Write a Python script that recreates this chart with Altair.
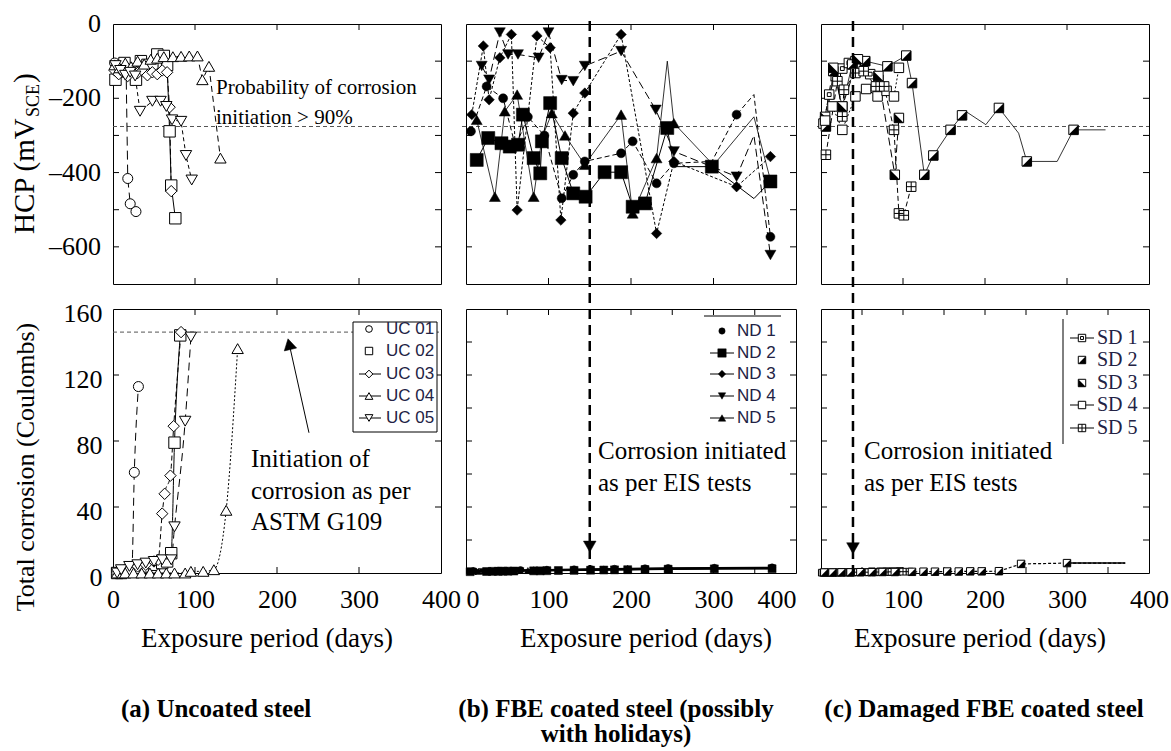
import altair as alt
import pandas as pd

SERIF = "Liberation Serif"
SANS = "Liberation Sans"
INK = "black"
KEY_INK = "#222244"

# ---------------- scales and reference levels ----------------
X_DOMAIN = [0, 400]
HCP_DOMAIN = [-700, 0]
Q_DOMAIN = [0, 160]
HCP_LIMIT = -276          # 90 % probability of corrosion (mV vs SCE)
Q_LIMIT = 146             # ASTM G109 initiation level (C)
EIS_DAY_ND = 150          # corrosion initiation from EIS, intact FBE
EIS_DAY_SD = 39           # corrosion initiation from EIS, damaged FBE

HCP_LABELS = [0, -200, -400, -600]
HCP_TICKS = [-100, -200, -300, -400, -500, -600]
Q_LABELS = [0, 40, 80, 120, 160]
Q_TICKS_A = [40, 80, 120]
Q_TICKS_BC = [20, 40, 60, 80, 100, 120, 140]
DAY_LABELS = [0, 100, 200, 300, 400]
DAY_TICKS = [100, 200, 300]
DAY_TICKS_FINE = [50, 100, 150, 200, 250, 300, 350]

W_A, W_B, W_C = 328, 330, 328
H_TOP, H_BOT = 260, 264
GAP = 25
TICK = 6

UC_NAMES = ["UC 01", "UC 02", "UC 03", "UC 04", "UC 05"]
ND_NAMES = ["ND 1", "ND 2", "ND 3", "ND 4", "ND 5"]
SD_NAMES = ["SD 1", "SD 2", "SD 3", "SD 4", "SD 5"]

# ---------------- (a) uncoated steel ----------------
uc01_hcp_day = [2, 6, 10, 14, 16, 18, 21, 28]
uc01_hcp = [-105, -118, -130, -122, -125, -416, -484, -505]
uc02_hcp_day = [3, 8, 14, 20, 28, 34, 42, 48, 54, 62, 66, 69, 71, 76]
uc02_hcp = [-150, -118, -105, -128, -150, -100, -110, -120, -82, -86, -110, -289, -435, -523]
uc03_hcp_day = [2, 7, 12, 18, 24, 30, 36, 42, 48, 54, 60, 66, 69, 71]
uc03_hcp = [-125, -135, -128, -140, -120, -132, -125, -138, -130, -135, -125, -130, -224, -450]
uc04_hcp_day = [2, 8, 15, 22, 30, 38, 46, 54, 62, 73, 83, 93, 103, 109, 117, 131]
uc04_hcp = [-110, -118, -105, -115, -100, -108, -95, -92, -88, -88, -87, -86, -86, -150, -114, -361]
uc05_hcp_day = [3, 9, 15, 21, 27, 33, 48, 58, 65, 72, 83, 89, 96]
uc05_hcp = [-112, -125, -138, -130, -140, -235, -208, -208, -222, -258, -262, -354, -420]

uc01_q_day = [5, 10, 15, 20, 23, 26, 31]
uc01_q = [0, 1, 2, 3, 3, 61, 113]
uc02_q_day = [5, 10, 15, 20, 30, 40, 50, 60, 66, 71, 75, 82]
uc02_q = [0, 0, 1, 1, 3, 4, 5, 6, 7, 12, 79, 144]
uc03_q_day = [5, 10, 20, 30, 40, 50, 55, 60, 63, 70, 74, 83]
uc03_q = [0, 1, 2, 4, 5, 7, 8, 36, 48, 59, 89, 146]
uc04_q_day = [5, 15, 25, 35, 45, 55, 65, 75, 88, 95, 110, 123, 138, 152]
uc04_q = [0, 0, 0, 0, 0, 0, 0, 0, 0, 1, 1, 2, 38, 136]
uc05_q_day = [5, 10, 20, 30, 40, 50, 60, 71, 75, 88, 95]
uc05_q = [0, 2, 4, 5, 6, 7, 8, 8, 28, 92, 143]

# ---------------- (b) FBE coated steel ----------------
nd1_hcp_day = [6, 25, 45, 60, 75, 95, 116, 130, 144, 188, 202, 231, 252, 298, 328, 349, 369]
nd1_hcp = [-289, -168, -200, -330, -250, -300, -469, -406, -370, -348, -316, -429, -375, -370, -244, -190, -573]
nd1_hcp_bend = [298, 349]
nd2_hcp_day = [13, 27, 43, 53, 63, 69, 82, 90, 92, 102, 116, 130, 145, 168, 188, 202, 217, 244, 252, 298, 349, 369]
nd2_hcp = [-366, -307, -321, -330, -325, -244, -361, -402, -316, -213, -361, -456, -465, -399, -399, -492, -483, -280, -384, -384, -470, -424]
nd2_hcp_bend = [252, 349]
nd3_hcp_day = [7, 21, 28, 41, 55, 62, 86, 102, 115, 130, 144, 188, 231, 252, 328, 369]
nd3_hcp = [-244, -59, -204, -91, -28, -501, -32, -64, -528, -240, -186, -28, -564, -370, -438, -357]
nd3_hcp_bend = []
nd4_hcp_day = [19, 28, 41, 51, 63, 88, 100, 116, 130, 144, 188, 230, 252, 328, 349, 369]
nd4_hcp = [-113, -150, -23, -82, -82, -91, -23, -151, -154, -113, -73, -231, -343, -411, -300, -622]
nd4_hcp_bend = [349]
nd5_hcp_day = [13, 35, 47, 62, 82, 92, 104, 120, 144, 188, 202, 231, 244, 252, 300, 349, 369]
nd5_hcp = [-258, -465, -235, -190, -465, -307, -240, -300, -379, -244, -510, -361, -100, -267, -380, -250, -420]
nd5_hcp_bend = [244, 300, 349]

nd1_q_day = [9, 39, 66, 98, 131, 151, 180, 217, 245, 301, 371]
nd1_q = [1.2, 1.5, 1.8, 2.0, 2.2, 2.4, 2.6, 2.9, 3.0, 3.2, 3.4]
nd2_q_day = [5, 25, 32, 39, 45, 51, 58, 82, 90, 98, 112, 131, 151, 167, 180, 196, 217, 245, 301, 371]
nd2_q = [0.8, 0.9, 1.0, 1.0, 1.1, 1.1, 1.2, 1.3, 1.3, 1.4, 1.5, 1.6, 1.7, 1.8, 1.9, 2.0, 2.1, 2.3, 2.5, 2.6]
nd3_q_day = [12, 30, 45, 58, 82, 98, 131, 167, 196, 245, 301, 371]
nd3_q = [1.0, 1.2, 1.4, 1.5, 1.7, 1.8, 2.0, 2.2, 2.5, 2.8, 3.0, 3.1]
nd4_q_day = [20, 42, 66, 90, 112, 151, 180, 217, 245, 301, 371]
nd4_q = [0.9, 1.1, 1.3, 1.5, 1.6, 1.8, 2.0, 2.2, 2.4, 2.6, 2.7]
nd5_q_day = [15, 35, 51, 75, 98, 131, 167, 196, 245, 301, 371]
nd5_q = [1.0, 1.1, 1.3, 1.5, 1.7, 1.9, 2.1, 2.3, 2.6, 2.8, 3.0]

# ---------------- (c) damaged FBE coated steel ----------------
sd1_hcp_day = [3, 10, 18, 26, 34, 42, 50, 60, 70]
sd1_hcp = [-268, -190, -140, -120, -105, -100, -110, -135, -150]
sd2_hcp_day = [6, 15, 26, 38, 54, 81, 104, 111, 126, 137, 158, 172, 177, 201, 217, 241, 251, 288, 308, 347]
sd2_hcp = [-276, -127, -222, -109, -100, -114, -85, -159, -406, -354, -285, -246, -236, -271, -226, -294, -370, -370, -285, -285]
sd2_hcp_bend = [177, 201, 241, 288, 347]
sd3_hcp_day = [5, 15, 26, 45, 70, 90, 95]
sd3_hcp = [-250, -118, -222, -95, -140, -406, -253]
sd4_hcp_day = [5, 14, 26, 42, 55, 69, 80, 89, 95]
sd4_hcp = [-260, -222, -285, -195, -175, -195, -180, -195, -118]
sd5_hcp_day = [6, 20, 26, 28, 42, 52, 67, 77, 89, 95, 101, 110]
sd5_hcp = [-352, -154, -249, -177, -132, -127, -168, -168, -285, -510, -515, -438]

sd1_q_day = [1, 6, 11, 16, 21, 26, 31, 36, 41, 46, 55]
sd1_q = [0.2, 0.2, 0.3, 0.3, 0.3, 0.4, 0.4, 0.4, 0.5, 0.5, 0.5]
sd2_q_day = [4, 14, 25, 36, 48, 62, 75, 90, 111, 125, 139, 154, 168, 182, 196, 217, 244, 300, 371]
sd2_q = [0.3, 0.3, 0.4, 0.4, 0.5, 0.5, 0.6, 0.6, 0.7, 0.8, 0.8, 0.9, 0.9, 1.0, 1.0, 1.1, 5.5, 6.0, 6.0]
sd2_q_bend = [371]
sd3_q_day = [3, 12, 21, 30, 39, 48, 57, 66, 75, 84]
sd3_q = [0.2, 0.2, 0.3, 0.3, 0.3, 0.4, 0.4, 0.4, 0.5, 0.5]
sd4_q_day = [8, 18, 28, 38, 48, 62, 72, 80, 88, 96]
sd4_q = [0.3, 0.3, 0.4, 0.4, 0.5, 1.0, 1.0, 1.1, 1.1, 1.2]
sd5_q_day = [5, 15, 25, 35, 45, 58, 68, 78, 86, 93, 100, 108]
sd5_q = [0.3, 0.3, 0.4, 0.4, 0.5, 0.5, 0.6, 0.6, 0.7, 0.7, 0.8, 0.8]

# ---------------- marker glyphs ----------------
OPEN = dict(filled=True, fill="white", stroke=INK, strokeWidth=1)
SOLID = dict(filled=True, fill=INK, stroke=INK, strokeWidth=0.5)
HALF_LR = "M1,-1L1,1L-1,1Z"
HALF_LL = "M-1,-1L1,1L-1,1Z"
PLUS = "M-1,0L1,0M0,-1L0,1"
INNER = "M-0.4,-0.4L0.4,-0.4L0.4,0.4L-0.4,0.4Z"

GLYPHS = {
    "UC 01": [dict(shape="circle", **OPEN)],
    "UC 02": [dict(shape="square", **OPEN)],
    "UC 03": [dict(shape="diamond", **OPEN)],
    "UC 04": [dict(shape="triangle-up", **OPEN)],
    "UC 05": [dict(shape="triangle-down", **OPEN)],
    "ND 1": [dict(shape="circle", **SOLID)],
    "ND 2": [dict(shape="square", **SOLID)],
    "ND 3": [dict(shape="diamond", **SOLID)],
    "ND 4": [dict(shape="triangle-down", **SOLID)],
    "ND 5": [dict(shape="triangle-up", **SOLID)],
    "SD 1": [dict(shape="square", **OPEN), dict(shape=INNER, filled=False, stroke=INK, strokeWidth=1)],
    "SD 2": [dict(shape="square", **OPEN), dict(shape=HALF_LR, filled=True, fill=INK, strokeWidth=0)],
    "SD 3": [dict(shape="square", **OPEN), dict(shape=HALF_LL, filled=True, fill=INK, strokeWidth=0)],
    "SD 4": [dict(shape="square", **OPEN)],
    "SD 5": [dict(shape="square", **OPEN), dict(shape=PLUS, filled=False, stroke=INK, strokeWidth=1)],
}

ONE = pd.DataFrame({"k": [0]})
XS = alt.Scale(domain=X_DOMAIN, nice=False, zero=False)
YS_HCP = alt.Scale(domain=HCP_DOMAIN, nice=False, zero=False)
YS_Q = alt.Scale(domain=Q_DOMAIN, nice=False, zero=False)

# Axes of the panel under construction; every layer of a panel carries the
# same axis definitions so that the layered axes merge cleanly.
AX = {"x": None, "y": None}


def X(field):
    return alt.X(field, scale=XS, axis=AX["x"])


def Y(field, ys):
    return alt.Y(field, scale=ys, axis=AX["y"])


def line(days, vals, ys, dash=None, width=1.0, interp="linear"):
    kw = dict(color=INK, strokeWidth=width, interpolate=interp)
    if dash:
        kw["strokeDash"] = dash
    return alt.Chart(pd.DataFrame({"day": days, "v": vals})).mark_line(**kw).encode(
        x=X("day:Q"), y=Y("v:Q", ys))


def points(name, days, vals, ys, size, skip=()):
    df = pd.DataFrame({"day": days, "v": vals})
    df = df[~df["day"].isin(list(skip))]
    return [alt.Chart(df).mark_point(size=size, opacity=1, **g).encode(x=X("day:Q"), y=Y("v:Q", ys))
            for g in GLYPHS[name]]


def key_glyph(name, x, y, size):
    return [alt.Chart(ONE).mark_point(size=size, opacity=1, **g).encode(x=alt.value(x), y=alt.value(y))
            for g in GLYPHS[name]]


def rule_px(x, y, x2, y2, width=1.0, dash=None, color=INK):
    kw = dict(color=color, strokeWidth=width)
    if dash:
        kw["strokeDash"] = dash
    return alt.Chart(ONE).mark_rule(**kw).encode(
        x=alt.value(x), y=alt.value(y), x2=alt.value(x2), y2=alt.value(y2))


def text_px(x, y, text, size, align="center", font=SERIF, weight="normal", angle=None,
            baseline="middle", color=INK):
    kw = dict(align=align, baseline=baseline, font=font, fontSize=size, fontWeight=weight, color=color)
    if angle is not None:
        kw["angle"] = angle
    return alt.Chart(ONE).mark_text(text=text, **kw).encode(x=alt.value(x), y=alt.value(y))


def note(day, v, text, ys, size, align="left"):
    df = pd.DataFrame({"day": [day], "v": [v], "txt": [text]})
    return alt.Chart(df).mark_text(align=align, baseline="middle", font=SERIF, fontSize=size,
                                   color=INK).encode(x=X("day:Q"), y=Y("v:Q", ys), text="txt:N")


def hline(v, ys, x0, x1, dash=(4, 3), color="#555555", width=1.0):
    return alt.Chart(pd.DataFrame({"v": [v]})).mark_rule(
        color=color, strokeWidth=width, strokeDash=list(dash)).encode(
        y=Y("v:Q", ys), x=alt.value(x0), x2=alt.value(x1))


def vline(day, y0, y1, dash=(10, 6), width=2.5):
    return alt.Chart(pd.DataFrame({"day": [day]})).mark_rule(
        color=INK, strokeWidth=width, strokeDash=list(dash)).encode(
        x=X("day:Q"), y=alt.value(y0), y2=alt.value(y1))


def arrow_head(day, v, ys, shape, angle=None):
    kw = dict(shape=shape, size=160, filled=True, fill=INK, stroke=INK, strokeWidth=0.5, opacity=1)
    if angle is not None:
        kw["angle"] = angle
    return alt.Chart(pd.DataFrame({"d": [day], "v": [v]})).mark_point(**kw).encode(
        x=X("d:Q"), y=Y("v:Q", ys))


def inner_ticks(W, H, xvals, yvals, ys):
    tx = pd.DataFrame({"t": xvals})
    ty = pd.DataFrame({"t": yvals})
    rk = dict(color=INK, strokeWidth=1)
    return [
        alt.Chart(tx).mark_rule(**rk).encode(x=X("t:Q"), y=alt.value(0), y2=alt.value(TICK)),
        alt.Chart(tx).mark_rule(**rk).encode(x=X("t:Q"), y=alt.value(H - TICK), y2=alt.value(H)),
        alt.Chart(ty).mark_rule(**rk).encode(y=Y("t:Q", ys), x=alt.value(0), x2=alt.value(TICK)),
        alt.Chart(ty).mark_rule(**rk).encode(y=Y("t:Q", ys), x=alt.value(W - TICK), x2=alt.value(W)),
    ]


LABEL_STYLE = dict(labelFont=SERIF, labelFontSize=26, labelColor=INK, ticks=False, domain=False,
                   grid=False, title=None)
q_axis = alt.Axis(values=Q_LABELS, format="d", labelPadding=11, labelOffset=4, **LABEL_STYLE)


def day_axis(**extra):
    return alt.Axis(values=DAY_LABELS, format="d", labelPadding=13, **LABEL_STYLE, **extra)


# potential labels written with a long dash as the minus sign
hcp_label_df = pd.DataFrame({
    "v": HCP_LABELS,
    "txt": [("\u2013" + str(-v)) if v < 0 else str(v) for v in HCP_LABELS],
})

XT = H_BOT + 66     # row of the x-axis titles
# ================= (a) top: half-cell potential =================
AX.update(x=None, y=None)
a_top = [rule_px(-112, -23, -111.99, -22.99, width=0.001, color="white")]
a_top += inner_ticks(W_A, H_TOP, DAY_TICKS, HCP_TICKS, YS_HCP)
a_top.append(alt.Chart(hcp_label_df).mark_text(
    align="right", baseline="middle", font=SERIF, fontSize=26, color=INK).encode(
    x=alt.value(-12), y=Y("v:Q", YS_HCP), text="txt:N"))
a_top.append(hline(HCP_LIMIT, YS_HCP, 0, W_A))
a_top += [
    line(uc01_hcp_day, uc01_hcp, YS_HCP, [9, 5]),
    line(uc02_hcp_day, uc02_hcp, YS_HCP),
    line(uc03_hcp_day, uc03_hcp, YS_HCP, [6, 3]),
    line(uc04_hcp_day, uc04_hcp, YS_HCP, [6, 4]),
    line(uc05_hcp_day, uc05_hcp, YS_HCP, [4, 3]),
]
a_top += points("UC 01", uc01_hcp_day, uc01_hcp, YS_HCP, 100)
a_top += points("UC 02", uc02_hcp_day, uc02_hcp, YS_HCP, 130)
a_top += points("UC 03", uc03_hcp_day, uc03_hcp, YS_HCP, 130)
a_top += points("UC 04", uc04_hcp_day, uc04_hcp, YS_HCP, 130)
a_top += points("UC 05", uc05_hcp_day, uc05_hcp, YS_HCP, 130)
a_top += [
    note(125.6, -173, "Probability of corrosion", YS_HCP, 21),
    note(125.6, -254, "initiation  > 90%", YS_HCP, 21),
    text_px(-79, 210, "HCP (mV", 29, align="left", angle=270, baseline="alphabetic"),
    text_px(-74, 93, "SCE", 18, align="left", angle=270, baseline="alphabetic"),
    text_px(-79, 59, ")", 29, align="left", angle=270, baseline="alphabetic"),
]
panel_a_top = alt.layer(*a_top).properties(width=W_A, height=H_TOP)

# ================= (b) top =================
AX.update(x=None, y=None)
b_top = inner_ticks(W_B, H_TOP, DAY_TICKS, HCP_TICKS, YS_HCP)
b_top.append(hline(HCP_LIMIT, YS_HCP, -4, W_B))
b_top += [
    line(nd1_hcp_day, nd1_hcp, YS_HCP, [5, 3]),
    line(nd2_hcp_day, nd2_hcp, YS_HCP),
    line(nd3_hcp_day, nd3_hcp, YS_HCP, [3, 2]),
    line(nd4_hcp_day, nd4_hcp, YS_HCP, [8, 4]),
    line(nd5_hcp_day, nd5_hcp, YS_HCP, width=0.8),
]
b_top += points("ND 1", nd1_hcp_day, nd1_hcp, YS_HCP, 81, nd1_hcp_bend)
b_top += points("ND 2", nd2_hcp_day, nd2_hcp, YS_HCP, 170, nd2_hcp_bend)
b_top += points("ND 3", nd3_hcp_day, nd3_hcp, YS_HCP, 110, nd3_hcp_bend)
b_top += points("ND 4", nd4_hcp_day, nd4_hcp, YS_HCP, 121, nd4_hcp_bend)
b_top += points("ND 5", nd5_hcp_day, nd5_hcp, YS_HCP, 121, nd5_hcp_bend)
b_top.append(vline(EIS_DAY_ND, -3, H_TOP + GAP))
panel_b_top = alt.layer(*b_top).properties(width=W_B, height=H_TOP)

# ================= (c) top =================
AX.update(x=None, y=None)
c_top = inner_ticks(W_C, H_TOP, DAY_TICKS, HCP_TICKS, YS_HCP)
c_top.append(hline(HCP_LIMIT, YS_HCP, -4, W_C))
c_top += [
    line(sd1_hcp_day, sd1_hcp, YS_HCP, [4, 3]),
    line(sd2_hcp_day, sd2_hcp, YS_HCP, width=0.8),
    line(sd3_hcp_day, sd3_hcp, YS_HCP, [8, 4]),
    line(sd4_hcp_day, sd4_hcp, YS_HCP, [2, 2]),
    line(sd5_hcp_day, sd5_hcp, YS_HCP, [5, 3]),
]
c_top += points("SD 1", sd1_hcp_day, sd1_hcp, YS_HCP, 90)
c_top += points("SD 2", sd2_hcp_day, sd2_hcp, YS_HCP, 90, sd2_hcp_bend)
c_top += points("SD 3", sd3_hcp_day, sd3_hcp, YS_HCP, 90)
c_top += points("SD 4", sd4_hcp_day, sd4_hcp, YS_HCP, 90)
c_top += points("SD 5", sd5_hcp_day, sd5_hcp, YS_HCP, 90)
c_top.append(vline(EIS_DAY_SD, -3, H_TOP + GAP))
panel_c_top = alt.layer(*c_top).properties(width=W_C, height=H_TOP)

# ================= (a) bottom: total corrosion =================
AX.update(x=day_axis(labelFlush=False), y=q_axis)
a_bot = inner_ticks(W_A, H_BOT, DAY_TICKS, Q_TICKS_A, YS_Q)
a_bot.append(hline(Q_LIMIT, YS_Q, 0, W_A))
a_bot += [
    line(uc01_q_day, uc01_q, YS_Q, [8, 5], interp="monotone"),
    line(uc02_q_day, uc02_q, YS_Q, interp="monotone"),
    line(uc03_q_day, uc03_q, YS_Q, [5, 3], interp="monotone"),
    line(uc04_q_day, uc04_q, YS_Q, [2, 2], interp="monotone"),
    line(uc05_q_day, uc05_q, YS_Q, [8, 5], interp="monotone"),
]
a_bot += points("UC 01", uc01_q_day, uc01_q, YS_Q, 100)
a_bot += points("UC 02", uc02_q_day, uc02_q, YS_Q, 130)
a_bot += points("UC 03", uc03_q_day, uc03_q, YS_Q, 130)
a_bot += points("UC 04", uc04_q_day, uc04_q, YS_Q, 130)
a_bot += points("UC 05", uc05_q_day, uc05_q, YS_Q, 130)

# arrow pointing at the ASTM G109 level
arrow_df = pd.DataFrame({"d0": [239], "v0": [85], "d1": [215], "v1": [138.5]})
a_bot.append(alt.Chart(arrow_df).mark_rule(color=INK, strokeWidth=1).encode(
    x=X("d0:Q"), y=Y("v0:Q", YS_Q), x2="d1:Q", y2="v1:Q"))
a_bot.append(arrow_head(214.9, 138.7, YS_Q, "triangle-up", angle=347))
a_bot += [
    note(168.3, 69, "Initiation of", YS_Q, 25),
    note(168.3, 49.7, "corrosion as per", YS_Q, 25),
    note(168.3, 31, "ASTM G109", YS_Q, 25),
]
# legend box
a_bot.append(alt.Chart(ONE).mark_rect(fill="white", stroke=INK, strokeWidth=1).encode(
    x=alt.value(240), x2=alt.value(324), y=alt.value(13), y2=alt.value(123)))
UC_KEY_Y = [20, 42, 65, 87, 109]
UC_KEY_SIZE = [45, 55, 60, 60, 60]
for i, name in enumerate(UC_NAMES):
    if i >= 2:
        a_bot.append(rule_px(246, UC_KEY_Y[i], 268, UC_KEY_Y[i]))
    a_bot += key_glyph(name, 256, UC_KEY_Y[i], UC_KEY_SIZE[i])
    a_bot.append(text_px(273, UC_KEY_Y[i], name, 17, align="left", font=SANS, color=KEY_INK))
a_bot += [
    text_px(-79, 158, "Total corrosion (Coulombs)", 26, align="center", angle=270, baseline="alphabetic"),
    text_px(154, XT, "Exposure period (days)", 27),
    text_px(8, 400, "(a) Uncoated steel", 25, align="left", weight="bold"),
]
panel_a_bot = alt.layer(*a_bot).properties(width=W_A, height=H_BOT)

# ================= (b) bottom =================
AX.update(x=day_axis(labelFlush=True), y=None)
b_bot = inner_ticks(W_B, H_BOT, DAY_TICKS_FINE, Q_TICKS_BC, YS_Q)
b_bot += [
    line(nd1_q_day, nd1_q, YS_Q, width=1.5),
    line(nd2_q_day, nd2_q, YS_Q, width=1.5),
    line(nd3_q_day, nd3_q, YS_Q, width=1.5),
    line(nd4_q_day, nd4_q, YS_Q, width=1.5),
    line(nd5_q_day, nd5_q, YS_Q, width=1.5),
]
b_bot += points("ND 1", nd1_q_day, nd1_q, YS_Q, 50)
b_bot += points("ND 3", nd3_q_day, nd3_q, YS_Q, 50)
b_bot += points("ND 4", nd4_q_day, nd4_q, YS_Q, 50)
b_bot += points("ND 5", nd5_q_day, nd5_q, YS_Q, 50)
b_bot += points("ND 2", nd2_q_day, nd2_q, YS_Q, 64)
b_bot.append(vline(EIS_DAY_ND, 0, H_BOT))
b_bot.append(arrow_head(EIS_DAY_ND, 16, YS_Q, "triangle-down"))
b_bot.append(rule_px(238, 7, 315, 7))
ND_KEY_Y = [22, 44, 65, 87, 109]
ND_KEY_SIZE = [40, 70, 55, 55, 55]
for i, name in enumerate(ND_NAMES):
    if i >= 1:
        b_bot.append(rule_px(244, ND_KEY_Y[i], 268, ND_KEY_Y[i]))
    b_bot += key_glyph(name, 256, ND_KEY_Y[i], ND_KEY_SIZE[i])
    b_bot.append(text_px(271, ND_KEY_Y[i], name, 17, align="left", font=SANS, color=KEY_INK))
b_bot += [
    note(160, 74, "Corrosion initiated", YS_Q, 25),
    note(160, 54.5, "as per EIS tests", YS_Q, 25),
    text_px(180, XT, "Exposure period (days)", 27),
    text_px(150, 400, "(b) FBE coated steel (possibly", 25, weight="bold"),
    text_px(150, 425, "with holidays)", 25, weight="bold"),
]
panel_b_bot = alt.layer(*b_bot).properties(width=W_B, height=H_BOT)

# ================= (c) bottom =================
c_align = {"condition": {"test": "datum.value === 0", "value": "left"}, "value": "center"}
AX.update(x=day_axis(labelFlush=False, labelAlign=c_align), y=None)
c_bot = inner_ticks(W_C, H_BOT, DAY_TICKS_FINE, Q_TICKS_BC, YS_Q)
c_bot += [
    line(sd1_q_day, sd1_q, YS_Q, width=1.2),
    line(sd2_q_day, sd2_q, YS_Q, [3, 2], width=1.2),
    line(sd3_q_day, sd3_q, YS_Q, width=1.2),
    line(sd4_q_day, sd4_q, YS_Q, width=1.2),
    line(sd5_q_day, sd5_q, YS_Q, width=1.2),
    line([300, 371], [6.0, 6.0], YS_Q, width=1.5),
]
c_bot += points("SD 1", sd1_q_day, sd1_q, YS_Q, 45)
c_bot += points("SD 3", sd3_q_day, sd3_q, YS_Q, 45)
c_bot += points("SD 4", sd4_q_day, sd4_q, YS_Q, 45)
c_bot += points("SD 5", sd5_q_day, sd5_q, YS_Q, 45)
c_bot += points("SD 2", sd2_q_day, sd2_q, YS_Q, 55, sd2_q_bend)
c_bot.append(vline(EIS_DAY_SD, 0, H_BOT))
c_bot.append(arrow_head(EIS_DAY_SD, 15, YS_Q, "triangle-down"))
c_bot.append(rule_px(242, 10, 242, 135))
SD_KEY_Y = [29, 51, 74, 96, 119]
for i, name in enumerate(SD_NAMES):
    if i in (0, 3, 4):
        c_bot.append(rule_px(249, SD_KEY_Y[i], 273, SD_KEY_Y[i]))
    c_bot += key_glyph(name, 261, SD_KEY_Y[i], 55)
    c_bot.append(text_px(276, SD_KEY_Y[i], name, 20, align="left", font=SERIF, color=KEY_INK))
c_bot += [
    note(52.4, 74, "Corrosion initiated", YS_Q, 25),
    note(52.4, 54.5, "as per EIS tests", YS_Q, 25),
    text_px(159, XT, "Exposure period (days)", 27),
    text_px(163, 400, "(c) Damaged FBE coated steel", 25, weight="bold"),
]
panel_c_bot = alt.layer(*c_bot).properties(width=W_C, height=H_BOT)

chart = alt.concat(
    panel_a_top, panel_b_top, panel_c_top,
    panel_a_bot, panel_b_bot, panel_c_bot,
    columns=3, spacing=GAP, bounds="flush",
).properties(padding=0, background="white").configure_view(
    stroke=INK, strokeWidth=1
)

chart.save("out.html", embed_options={"renderer": "svg", "actions": False})
